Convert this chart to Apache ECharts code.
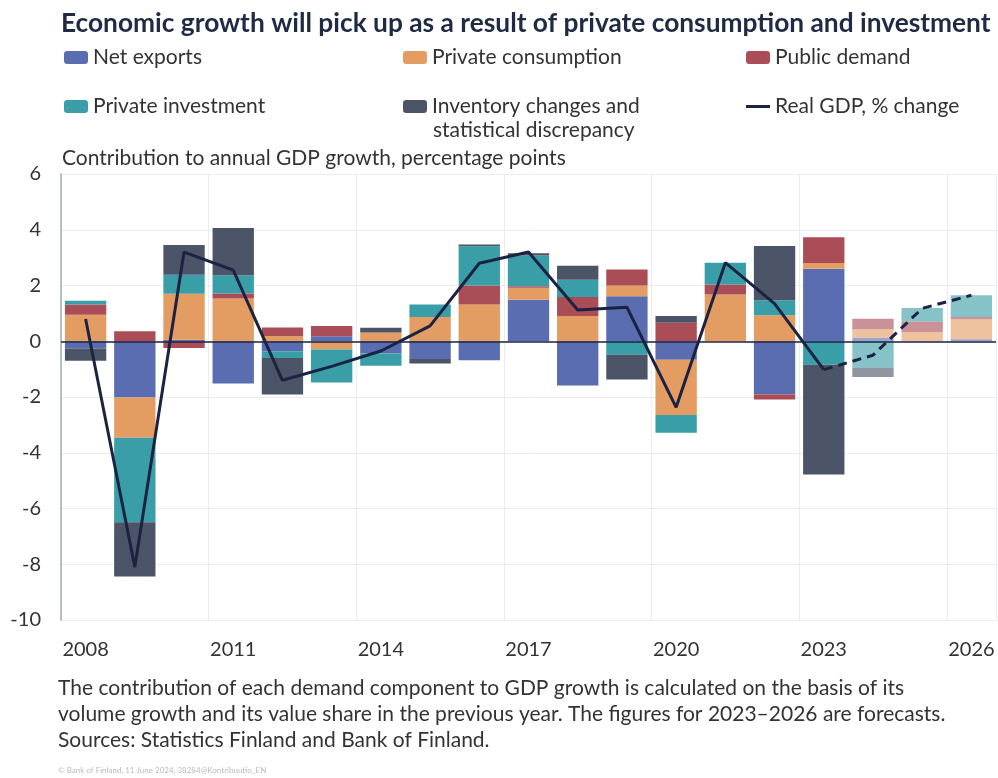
<!DOCTYPE html>
<html>
<head>
<meta charset="utf-8">
<script src="https://cdn.jsdelivr.net/npm/echarts@6/dist/echarts.min.js"></script>
<style>
html,body{margin:0;padding:0;background:#fff;}
#chart{width:998px;height:778px;}
</style>
</head>
<body>
<div id="chart"></div>
<script>
const years = ['2008','2009','2010','2011','2012','2013','2014','2015','2016','2017','2018','2019','2020','2021','2022','2023','2024','2025','2026'];
const netExports = [-0.26,-2.02,0.05,-1.52,-0.36,0.18,-0.44,-0.64,-0.68,1.49,-1.59,1.61,-0.66,0,-1.91,2.60,0.13,0,0.07];
const privateConsumption = [0.95,-1.44,1.65,1.53,0.19,-0.30,0.31,0.87,1.32,0.43,0.91,0.39,-1.99,1.68,0.93,0.21,0.30,0.33,0.72];
const publicDemand = [0.37,0.36,-0.24,0.18,0.30,0.37,0,0,0.68,0.05,0.68,0.57,0.66,0.36,-0.18,0.92,0.38,0.38,0.08];
const privateInvestment = [0.13,-3.03,0.69,0.66,-0.24,-1.18,-0.44,0.45,1.41,1.11,0.62,-0.48,-0.63,0.78,0.54,-0.84,-0.95,0.48,0.78];
const inventory = [-0.44,-1.95,1.06,1.69,-1.31,0,0.17,-0.16,0.06,0.08,0.50,-0.89,0.25,0,1.95,-3.94,-0.33,0,0];
const realGdp = [0.8,-8.1,3.2,2.55,-1.4,-0.9,-0.35,0.55,2.8,3.2,1.12,1.22,-2.37,2.82,1.35,-1.02,-0.5,1.18,1.65];
const yTicks = [-10,-8,-6,-4,-2,0,2,4,6];
const forecastBarFrom = 16;   // bars from 2024 are drawn lighter
const forecastLineFrom = 15;  // line dashed from 2023

const names = {
  ne: 'Net exports', pc: 'Private consumption', pd: 'Public demand',
  pi: 'Private investment', inv: 'Inventory changes and statistical discrepancy', gdp: 'Real GDP, % change'
};
const colors = { ne:'#5A6DB1', pc:'#E39D62', pd:'#AA4D56', pi:'#3A9EA8', inv:'#4C5567', gdp:'#1B2343' };

function barData(vals){
  return vals.map((v,i)=> i>=forecastBarFrom ? {value:v, itemStyle:{opacity:0.62}} : v);
}
function barSeries(key, vals){
  return {
    name: names[key], type:'bar', stack:'c', data: barData(vals),
    itemStyle:{color: colors[key]}, barCategoryGap:'16%', emphasis:{disabled:true}
  };
}
const textColor = '#333333';
const font = 'Lato';

const chart = echarts.init(document.getElementById('chart'), null, {renderer:'canvas'});
const legendBase = {
  itemWidth: 24, itemHeight: 13, itemGap: 10, selectedMode:false,
  textStyle:{fontFamily:font, fontSize:21, color:textColor}
};
const series = [
  barSeries('ne', netExports),
  barSeries('pc', privateConsumption),
  barSeries('pd', publicDemand),
  barSeries('pi', privateInvestment),
  barSeries('inv', inventory),
  {
    name: names.gdp, type:'line', data: realGdp.map((v,i)=> i<=forecastLineFrom ? v : '-'),
    symbol:'none', lineStyle:{color:colors.gdp, width:3}, itemStyle:{color:colors.gdp}, z:5,
    markLine:{silent:true, symbol:'none', label:{show:false}, lineStyle:{color:colors.gdp, width:1.5, type:'solid'}, data:[{yAxis:0}]}
  },
  {
    name: 'Real GDP forecast', type:'line', data: realGdp.map((v,i)=> i>=forecastLineFrom ? v : '-'),
    symbol:'none', lineStyle:{color:colors.gdp, width:3, type:[9,6]}, z:5
  }
];
chart.setOption({
  animation:false,
  backgroundColor:'#ffffff',
  title:{
    text:'Economic growth will pick up as a result of private consumption and investment',
    left:56, top:6,
    textStyle:{fontFamily:font, fontWeight:'bold', fontSize:26.3, color:'#1F2A44'}
  },
  legend:[
    Object.assign({data:[names.ne], left:59, top:42}, legendBase),
    Object.assign({data:[names.pc], left:398, top:42}, legendBase),
    Object.assign({data:[names.pd], left:741, top:42}, legendBase),
    Object.assign({data:[names.pi], left:59, top:91}, legendBase),
    Object.assign({data:[names.inv], left:398, top:91, formatter:()=> 'Inventory changes and'}, legendBase),
    Object.assign({data:[{name:names.gdp, icon:'path://M0,0 L24,0 L24,3 L0,3 Z'}], left:741, top:91}, legendBase)
  ],
  graphic:[
    {type:'text', left:433, top:120, style:{text:'statistical discrepancy', font:'21px Lato', fill:textColor}},
    {type:'text', left:62, top:148, style:{text:'Contribution to annual GDP growth, percentage points', font:'21px Lato', fill:textColor}},
    {type:'text', left:58, top:675, style:{text:'The contribution of each demand component to GDP growth is calculated on the basis of its\nvolume growth and its value share in the previous year. The figures for 2023–2026 are forecasts.\nSources: Statistics Finland and Bank of Finland.', font:'21px Lato', fill:textColor, lineHeight:26}},
    {type:'text', left:58, top:766, style:{text:'© Bank of Finland, 11 June 2024, 38284@Kontribuutio_EN', font:'8px Lato', fill:'#BBBBBB'}}
  ],
  grid:{left:61, right:2, top:174, bottom:158, containLabel:false},
  xAxis:{
    type:'category', data:years, boundaryGap:true,
    axisLine:{show:false}, axisTick:{show:false},
    axisLabel:{interval:2, margin:20, fontFamily:font, fontSize:20, color:textColor},
    splitLine:{show:true, interval:2, lineStyle:{color:'#EAECEF', width:1}}
  },
  yAxis:{
    type:'value', min:yTicks[0], max:yTicks[yTicks.length-1], interval:2,
    axisLine:{show:true, lineStyle:{color:'#A3ABB6', width:1.5}}, axisTick:{show:false},
    axisLabel:{margin:20, fontFamily:font, fontSize:20, color:textColor},
    splitLine:{lineStyle:{color:'#EAECEF', width:1}}
  },
  series: series
});
</script>
</body>
</html>
